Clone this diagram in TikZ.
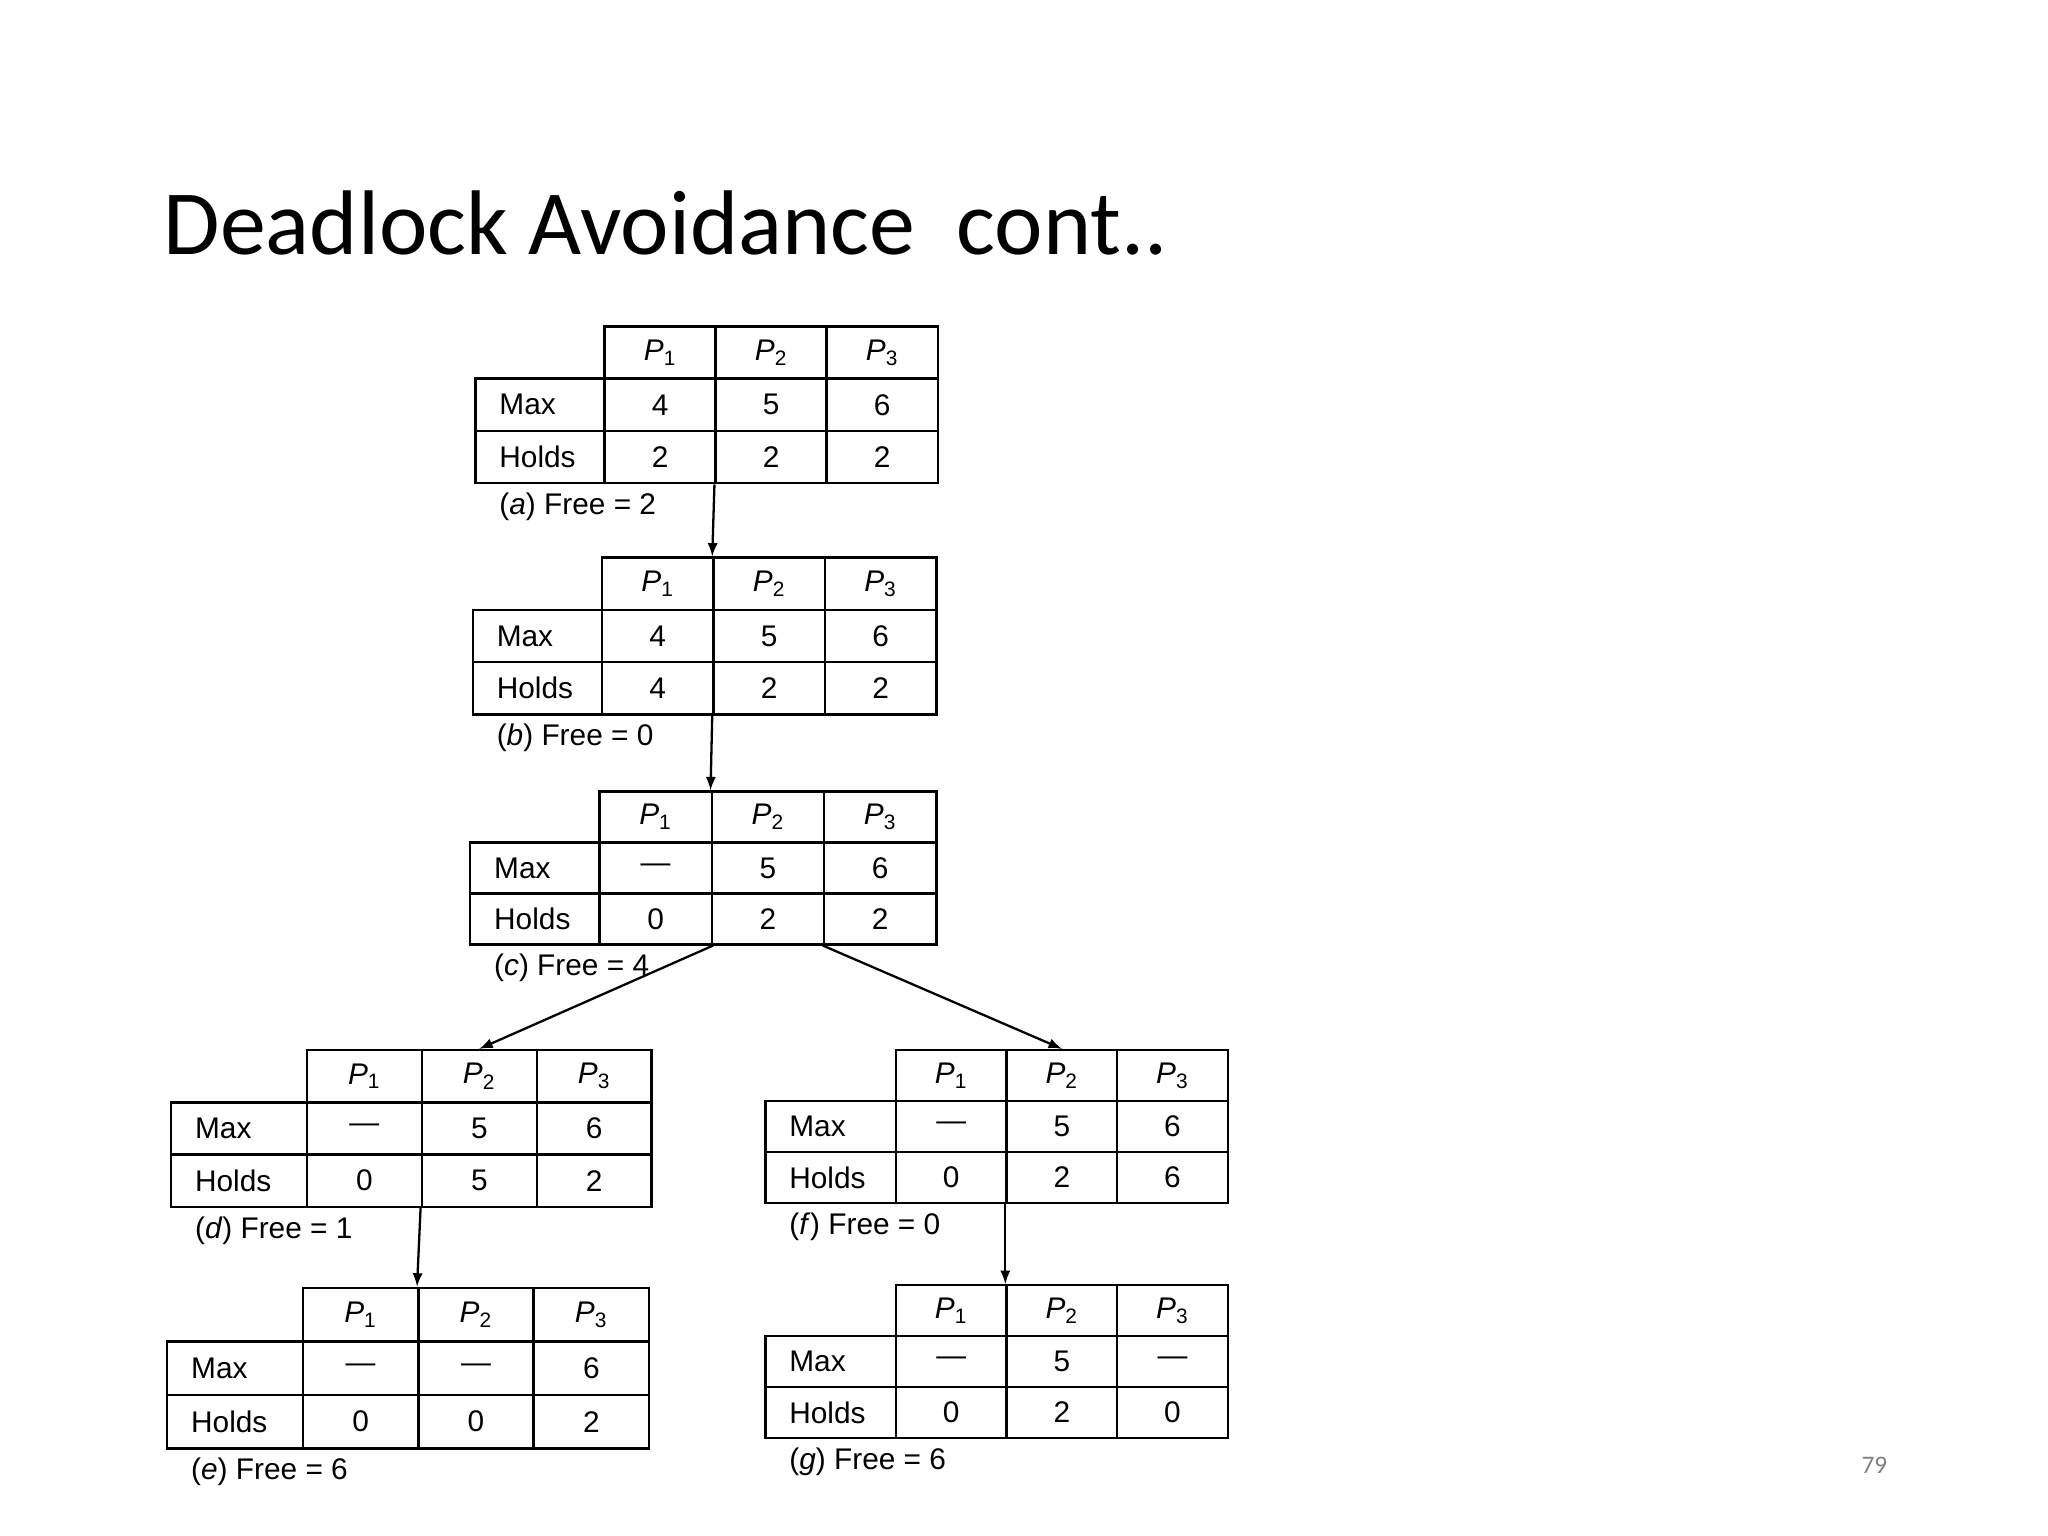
\documentclass[tikz,border=0pt]{standalone}
\usepackage{fontspec}
\setmainfont{Liberation Sans}
\newfontfamily\titlefont{Carlito}
\begin{document}
\begin{tikzpicture}[x=0.02cm,y=-0.02cm,
  cell/.style={draw,line width=1.1pt,minimum width=#1*0.02cm,minimum height=\th*0.02cm,inner sep=0pt,font=\fontsize{13}{15}\selectfont,anchor=north west},
  lbl/.style={anchor=west,inner sep=0pt,font=\fontsize{13}{15}\selectfont},
  arr/.style={-latex,line width=1pt},
  capt/.style={anchor=west,inner sep=0pt,font=\fontsize{13}{15}\selectfont}]
\useasboundingbox (0,0) rectangle (1568,1176);
\node[anchor=base west,inner sep=0pt,font=\titlefont\fontsize{40}{46}\selectfont] (title) at (125,195) {Deadlock Avoidance\ \ cont..};
\node[inner sep=0pt,text=gray,font=\titlefont\fontsize{11}{13}\selectfont] (pg) at (1435,1122) {79};
\newcommand\pp[1]{\textit{P}\textsubscript{#1}}
\def\tbl#1#2#3#4#5#6#7#8#9{%
  \def\tn{#1}\def\txl{#2}\def\txa{#3}\def\tw{#4}\def\ty{#5}\def\th{#6}%
  \node[cell=\tw] (#1-h1) at (#3,#5) {\pp1};
  \node[cell=\tw] (#1-h2) at (#3+#4,#5) {\pp2};
  \node[cell=\tw] (#1-h3) at (#3+2*#4,#5) {\pp3};
  \node[cell=(#3-#2)] (#1-lm) at (#2,#5+#6) {};
  \node[cell=(#3-#2)] (#1-lh) at (#2,#5+2*#6) {};
  \node[lbl] (#1-tm) at ([xshift=0.38cm]#1-lm.west) {Max};
  \node[lbl] (#1-th) at ([xshift=0.38cm]#1-lh.west) {Holds};
  \node[cell=\tw] (#1-m1) at (#3,#5+#6) {#7};
  \node[cell=\tw] (#1-m2) at (#3+#4,#5+#6) {#8};
  \node[cell=\tw] (#1-m3) at (#3+2*#4,#5+#6) {#9};
  \tblb}
\def\tblb#1#2#3#4{%
  \node[cell=\tw] (\tn-o1) at (\txa,\ty+2*\th) {#1};
  \node[cell=\tw] (\tn-o2) at (\txa+\tw,\ty+2*\th) {#2};
  \node[cell=\tw] (\tn-o3) at (\txa+2*\tw,\ty+2*\th) {#3};
  \node[capt] (\tn-cap) at (\txl+19,\ty+3*\th+19) {#4};}
\tbl{a}{363}{462}{85}{249}{40}{4}{5}{6}{2}{2}{2}{(\textit{a}) Free = 2}
\tbl{b}{361}{460}{85.3}{426}{40}{4}{5}{6}{4}{2}{2}{(\textit{b}) Free = 0}
\tbl{c}{359}{458}{86}{605}{39}{—}{5}{6}{0}{2}{2}{(\textit{c}) Free = 4}
\tbl{d}{130}{234}{88}{803}{40}{—}{5}{6}{0}{5}{2}{(\textit{d}) Free = 1}
\tbl{e}{127}{231}{88.3}{985}{41}{—}{—}{6}{0}{0}{2}{(\textit{e}) Free = 6}
\tbl{f}{585}{685}{84.7}{803}{39}{—}{5}{6}{0}{2}{6}{(\textit{f}) Free = 0}
\tbl{g}{585}{685}{84.7}{983}{39}{—}{5}{—}{0}{2}{0}{(\textit{g}) Free = 6}
\draw[arr] (a-o2.south west) -- (b-h2.north west);
\draw[arr] (b-o2.south west) -- (c-h2.north west);
\draw[arr] (c-o1.south east) -- (d-h2.north);
\draw[arr] (c-o3.south west) -- (f-h2.north);
\draw[arr] (d-o2.south west) -- (e-h2.north west);
\draw[arr] (f-o2.south west) -- (g-h2.north west);
\end{tikzpicture}
\end{document}
